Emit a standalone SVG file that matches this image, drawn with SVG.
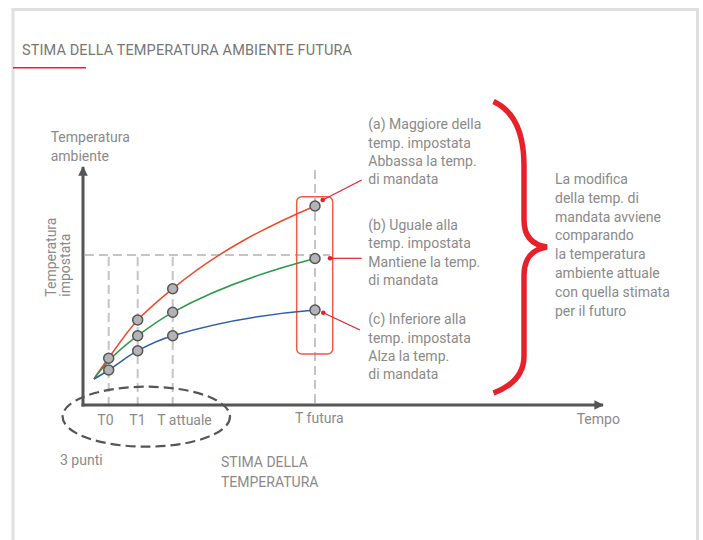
<svg xmlns="http://www.w3.org/2000/svg" width="703" height="540" viewBox="0 0 703 540">
<style>
text{font-family:Roboto,"Liberation Sans",sans-serif;font-size:14px;fill:#8a8a8a}
.title{font-size:14.5px;fill:#767676}
.grid{stroke:#c4c4c4;stroke-width:2;stroke-dasharray:9 5;fill:none}
.axis{stroke:#555;stroke-width:3;fill:none}
.curve{fill:none;stroke-width:1.5}
.pt{fill:#b4b4b8;stroke:#555;stroke-width:1.5}
.ptr{stroke:#e8202a;stroke-width:1.2;fill:none}
.dot{fill:#e8202a}
</style>
<defs>
<marker id="arr" viewBox="0 0 10 10" refX="9" refY="5" markerWidth="3.2" markerHeight="3.2" orient="auto" markerUnits="strokeWidth">
<path d="M0,0 L10,5 L0,10 z" fill="#555"/>
</marker>
</defs>
<rect x="13" y="9.5" width="684.5" height="545" fill="#fff" stroke="#e0e0e0" stroke-width="3"/>
<g id="title">
<text class="title" x="22" y="55" textLength="330">STIMA DELLA TEMPERATURA AMBIENTE FUTURA</text>
<line x1="13" y1="67.7" x2="86" y2="67.7" stroke="#e8202a" stroke-width="1.5"/>
</g>
<g id="grid">
<line class="grid" x1="85" y1="255" x2="330" y2="255"/>
<line class="grid" x1="108.7" y1="257" x2="108.7" y2="404"/>
<line class="grid" x1="137.7" y1="257" x2="137.7" y2="404"/>
<line class="grid" x1="172.7" y1="257" x2="172.7" y2="404"/>
<line class="grid" x1="315" y1="170" x2="315" y2="404"/>
</g>
<g id="axes">
<line class="axis" x1="83" y1="406.5" x2="83" y2="167" marker-end="url(#arr)"/>
<line class="axis" x1="81.5" y1="405" x2="603" y2="405" marker-end="url(#arr)"/>
</g>
<g id="axis-labels">
<text x="50.7" y="141.7">Temperatura</text>
<text x="50.7" y="160.7">ambiente</text>
<text transform="translate(55.5,296.7) rotate(-90)">Temperatura</text>
<text transform="translate(70,296.7) rotate(-90)">impostata</text>
<text x="97.3" y="425">T0</text>
<text x="129.3" y="425">T1</text>
<text x="157.3" y="425">T attuale</text>
<text x="295" y="422.7">T futura</text>
<text x="576.7" y="424">Tempo</text>
</g>
<g id="box-future">
<rect x="296.7" y="196.7" width="36" height="157.3" rx="5" fill="none" stroke="#f05a48" stroke-width="1.5"/>
</g>
<g id="connectors">
<path class="curve" stroke="#f04a2a" d="M94,379 C98.9,371 103.8,364.8 108.7,358 C118.4,344.6 128,330.2 137.7,320 C149.4,307.6 161,298.3 172.7,288.7 C219.7,249.9 267,226.5 315,206"/>
<path class="curve" stroke="#2a9a48" d="M94,379 C98.9,372 103.8,366.4 108.7,361 C118.4,350.4 128,343 137.7,335.7 C149.4,326.9 161,318.7 172.7,312.3 C220.4,286 268,270.7 315,258.5"/>
<path class="curve" stroke="#2f5ea8" d="M94,379 C98.9,376.3 103.8,373.2 108.7,370 C118.4,363.7 128,356 137.7,350.7 C149.4,344.3 161,339.2 172.7,335.7 C219.9,321.5 267.1,313.8 315,310"/>
<line class="ptr" x1="322.7" y1="200" x2="361.7" y2="180"/>
<line class="ptr" x1="330" y1="258.3" x2="361.7" y2="258.3"/>
<line class="ptr" x1="323.3" y1="312.7" x2="360" y2="330"/>
<ellipse cx="146.3" cy="416.7" rx="83.7" ry="30" fill="none" stroke="#555" stroke-width="2.2" stroke-dasharray="10 5"/>
<path d="M493.5,101.5 C512,110 524,130 524,166 L524,220 C524,237 533,245 547,247 C533,249 524,258 524,275 L524,356 C524,374 512,386 493.5,393" fill="none" stroke="#e8202a" stroke-width="5.5"/>
</g>
<g id="points">
<circle class="pt" cx="108.7" cy="358.3" r="5"/>
<circle class="pt" cx="108.7" cy="370" r="5"/>
<circle class="pt" cx="137.7" cy="320" r="5"/>
<circle class="pt" cx="137.7" cy="335.7" r="5"/>
<circle class="pt" cx="137.7" cy="350.7" r="5"/>
<circle class="pt" cx="172.7" cy="288.7" r="5"/>
<circle class="pt" cx="172.7" cy="312.3" r="5"/>
<circle class="pt" cx="172.7" cy="335.7" r="5"/>
<circle class="pt" cx="315" cy="206" r="5"/>
<circle class="pt" cx="315" cy="258.5" r="5"/>
<circle class="pt" cx="315" cy="310" r="5"/>
<circle class="dot" cx="322.7" cy="200" r="2.3"/>
<circle class="dot" cx="330" cy="258.3" r="2.3"/>
<circle class="dot" cx="323.3" cy="312.7" r="2.3"/>
</g>
<g id="label-a">
<text x="368.3" y="129.3">(a) Maggiore della</text>
<text x="368.3" y="147.7">temp. impostata</text>
<text x="368.3" y="166">Abbassa la temp.</text>
<text x="368.3" y="184.3">di mandata</text>
</g>
<g id="label-b">
<text x="368.3" y="230">(b) Uguale alla</text>
<text x="368.3" y="248.3">temp. impostata</text>
<text x="368.3" y="266.7">Mantiene la temp.</text>
<text x="368.3" y="285">di mandata</text>
</g>
<g id="label-c">
<text x="368.3" y="324.3">(c) Inferiore alla</text>
<text x="368.3" y="342.7">temp. impostata</text>
<text x="368.3" y="361">Alza la temp.</text>
<text x="368.3" y="379.3">di mandata</text>
</g>
<g id="label-summary">
<text x="555" y="183.9">La modifica</text>
<text x="555" y="202.7">della temp. di</text>
<text x="555" y="221.5">mandata avviene</text>
<text x="555" y="240.3">comparando</text>
<text x="555" y="259.1">la temperatura</text>
<text x="555" y="277.9">ambiente attuale</text>
<text x="555" y="296.7">con quella stimata</text>
<text x="555" y="315.5">per il futuro</text>
</g>
<g id="label-3punti">
<text x="60" y="465">3 punti</text>
</g>
<g id="label-stima">
<text x="221" y="467.3">STIMA DELLA</text>
<text x="221" y="486.7">TEMPERATURA</text>
</g>
</svg>
